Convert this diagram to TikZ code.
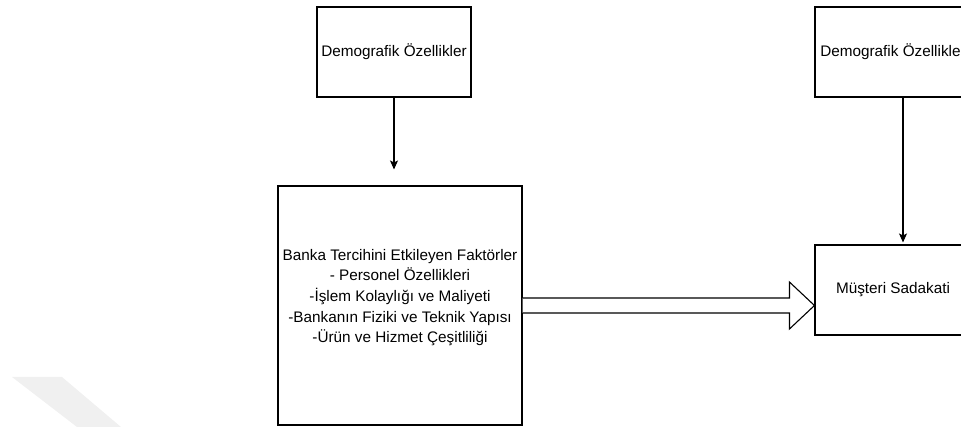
\documentclass[tikz,border=0pt]{standalone}
\usepackage{fontspec}
\setmainfont{Liberation Sans}
\usetikzlibrary{arrows.meta,calc}
\begin{document}
\begin{tikzpicture}[x=1pt,y=-1pt,
  box/.style={draw=black,line width=1.1pt,fill=white,inner sep=0pt,
    font=\fontsize{15.3}{20.7}\selectfont,align=center},
  lbl/.style={font=\fontsize{15.3}{20.7}\selectfont,align=center,inner sep=0pt},
  arr/.style={-{Stealth[length=9pt,width=8pt,inset=2pt]},line width=1.1pt},
  blockarrow/.style={draw=black,line width=1.1pt,fill=white,line join=miter}]
\useasboundingbox (0,0) rectangle (961,427);
\clip (0,0) rectangle (961,427);
% faint band in the lower left corner
\fill[black!6] (12,377) -- (62,377) -- (121,427) -- (77,427) -- cycle;

% boxes
\node[box,minimum width=154pt,minimum height=90pt] (d1) at (394,52) {Demografik Özellikler};
\node[box,minimum width=244pt,minimum height=239pt] (b2) at (400,305.5) {};
\node[lbl] (b2txt) at (400,297.5) {Banka Tercihini Etkileyen Faktörler\\
  - Personel Özellikleri\\
  -İşlem Kolaylığı ve Maliyeti\\
  -Bankanın Fiziki ve Teknik Yapısı\\
  -Ürün ve Hizmet Çeşitliliği};
\node[box,minimum width=156pt,minimum height=90pt] (d2) at (893,52) {Demografik Özellikler};
\node[box,minimum width=156pt,minimum height=90pt] (b4) at (893,290) {Müşteri Sadakati};

% thin arrows
\draw[arr,shorten >=16pt] (d1.south) -- (d1.south |- b2.north);
\coordinate (a2) at (903,0);
\draw[arr,shorten >=2pt] (a2 |- d2.south) -- (a2 |- b4.north);

% block arrow from the factors box to loyalty
\coordinate (tip) at (b4.west |- b2.east);
\draw[blockarrow] ($(b2.east)+(0,-7.5)$) -- ($(tip)+(-25,-7.5)$) -- ($(tip)+(-25,-23.5)$)
  -- (tip) -- ($(tip)+(-25,23.5)$) -- ($(tip)+(-25,7.5)$) -- ($(b2.east)+(0,7.5)$);
\end{tikzpicture}
\end{document}
